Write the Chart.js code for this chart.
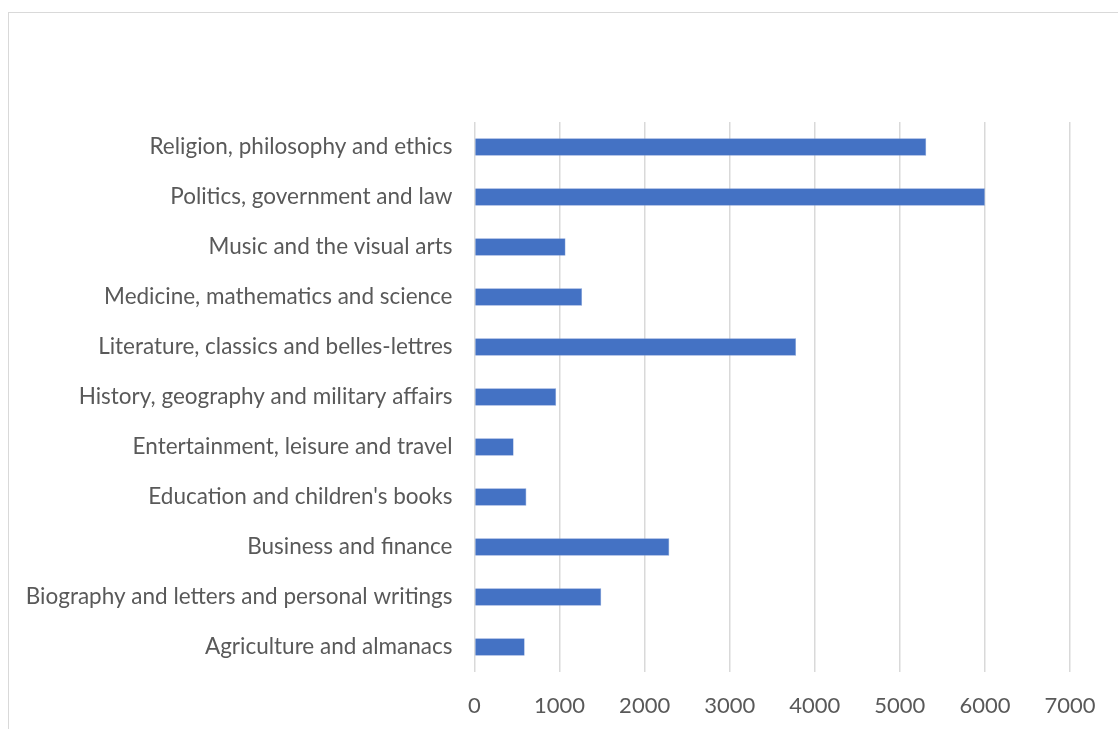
<!DOCTYPE html>
<html>
<head>
<meta charset="utf-8">
<script src="https://cdn.jsdelivr.net/npm/chart.js@4"></script>
<style>
  html, body { margin: 0; padding: 0; background: #fff; }
  #wrap { position: relative; width: 1118px; height: 729px; overflow: hidden; }
  #frame { position: absolute; left: 8px; top: 12px; width: 1200px; height: 800px;
           border-left: 1.5px solid #d9d9d9; border-top: 1.5px solid #d9d9d9; }
  #mainChart { position: absolute; left: 0; top: 0; }
</style>
</head>
<body>
<div id="wrap">
  <div id="frame"></div>
  <canvas id="mainChart" width="1118" height="729"></canvas>
</div>
<script>
const categories = [
    'Agriculture and almanacs',
    'Biography and letters and personal writings',
    'Business and finance',
    "Education and children's books",
    'Entertainment, leisure and travel',
    'History, geography and military affairs',
    'Literature, classics and belles-lettres',
    'Medicine, mathematics and science',
    'Music and the visual arts',
    'Politics, government and law',
    'Religion, philosophy and ethics'
];
const titles = [590, 1490, 2290, 610, 460, 960, 3780, 1265, 1070, 6000, 5310];
const xTicks = [0, 1000, 2000, 3000, 4000, 5000, 6000, 7000];

const ctx = document.getElementById('mainChart').getContext('2d');

const mainChart = new Chart(ctx, {
    type: 'bar',
    data: {
        labels: categories,
        datasets: [{
            data: titles,
            backgroundColor: '#4472c4',
            borderColor: '#7f9ed6',
            borderWidth: 0.6,
            borderSkipped: 'start',
            barPercentage: 0.35,
            categoryPercentage: 1
        }]
    },
    options: {
        indexAxis: 'y',
        responsive: false,
        animation: false,
        layout: { padding: { top: 122, right: 48, left: 0, bottom: 0 } },
        plugins: {
            legend: { display: false },
            tooltip: { enabled: false }
        },
        scales: {
            x: {
                min: 0,
                max: 7000,
                afterBuildTicks: axis => { axis.ticks = xTicks.map(v => ({ value: v })); },
                afterFit: axis => { axis.height = 57; },
                grid: { color: '#d9d9d9', lineWidth: 1.5, drawTicks: false },
                border: { display: false },
                ticks: {
                    padding: 21,
                    color: '#595959',
                    font: { family: 'Lato', size: 22 },
                    maxRotation: 0,
                    callback: v => String(v)
                }
            },
            y: {
                reverse: true,
                afterFit: axis => { axis.width = 474.5; },
                grid: { display: false, drawTicks: false },
                border: { display: false },
                ticks: {
                    padding: 22,
                    color: '#595959',
                    font: { family: 'Lato', size: 22.5 },
                    autoSkip: false
                }
            }
        }
    }
});
</script>
</body>
</html>
